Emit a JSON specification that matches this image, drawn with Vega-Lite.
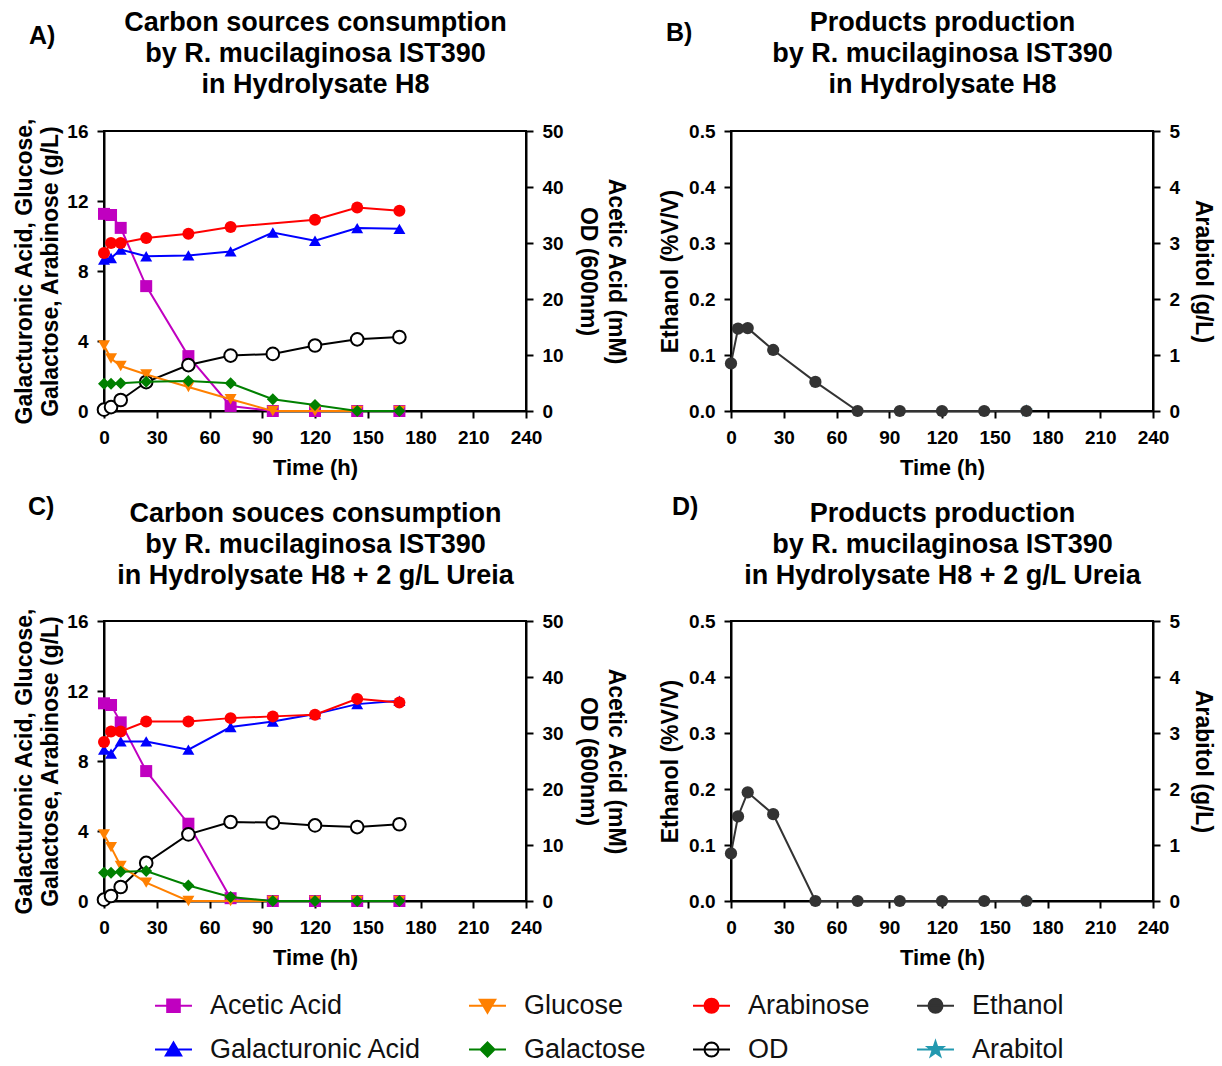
{
  "$schema": "https://vega.github.io/schema/vega-lite/v6.json",
  "background": "white",
  "padding": {"left": 12, "top": 7, "right": 6, "bottom": 0},
  "config": {
    "font": "Liberation Sans",
    "view": {"stroke": "#000000", "strokeWidth": 2},
    "axis": {
      "grid": false, "domainColor": "#000000", "domainWidth": 2,
      "tickColor": "#000000", "tickWidth": 2, "tickSize": 7,
      "labelFontSize": 19, "labelFontWeight": "bold", "labelColor": "#000000",
      "labelPadding": 9, "labelFlush": false, "labelOverlap": false,
      "titleFontSize": 23, "titleFontWeight": "bold", "titleColor": "#000000"
    },
    "axisX": {"labelPadding": 10, "titleFontSize": 22, "titlePadding": 10},
    "title": {"anchor": "start", "frame": "group", "fontSize": 25, "fontWeight": "bold", "color": "#000000", "offset": 0},
    "legend": {
      "orient": "none", "legendX": 46, "legendY": 861, "columns": 4,
      "columnPadding": 42, "rowPadding": 16, "gridAlign": "each",
      "symbolSize": 196, "symbolStrokeWidth": 2, "symbolOffset": 10, "labelOffset": 23,
      "labelFontSize": 27, "labelFontWeight": "normal", "labelColor": "#111111",
      "labelLimit": 400, "padding": 0
    }
  },
  "datasets": {
    "acetic_od_h8": [
      {"series": "Acetic Acid", "t": 0, "value": 35.2}, {"series": "Acetic Acid", "t": 4, "value": 35.0},
      {"series": "Acetic Acid", "t": 9.5, "value": 32.7}, {"series": "Acetic Acid", "t": 24, "value": 22.3},
      {"series": "Acetic Acid", "t": 48, "value": 9.8}, {"series": "Acetic Acid", "t": 72, "value": 0.9},
      {"series": "Acetic Acid", "t": 96, "value": 0}, {"series": "Acetic Acid", "t": 120, "value": 0},
      {"series": "Acetic Acid", "t": 144, "value": 0}, {"series": "Acetic Acid", "t": 168, "value": 0},
      {"series": "OD", "t": 0, "value": 0.24}, {"series": "OD", "t": 4, "value": 0.7},
      {"series": "OD", "t": 9.5, "value": 1.96}, {"series": "OD", "t": 24, "value": 5.17},
      {"series": "OD", "t": 48, "value": 8.2}, {"series": "OD", "t": 72, "value": 9.9},
      {"series": "OD", "t": 96, "value": 10.2}, {"series": "OD", "t": 120, "value": 11.7},
      {"series": "OD", "t": 144, "value": 12.8}, {"series": "OD", "t": 168, "value": 13.2}
    ],
    "sugars_h8": [
      {"series": "Galacturonic Acid", "t": 0, "value": 8.65}, {"series": "Galacturonic Acid", "t": 4, "value": 8.74},
      {"series": "Galacturonic Acid", "t": 9.5, "value": 9.22}, {"series": "Galacturonic Acid", "t": 24, "value": 8.84},
      {"series": "Galacturonic Acid", "t": 48, "value": 8.89}, {"series": "Galacturonic Acid", "t": 72, "value": 9.12},
      {"series": "Galacturonic Acid", "t": 96, "value": 10.2}, {"series": "Galacturonic Acid", "t": 120, "value": 9.73},
      {"series": "Galacturonic Acid", "t": 144, "value": 10.45}, {"series": "Galacturonic Acid", "t": 168, "value": 10.41},
      {"series": "Arabinose", "t": 0, "value": 9.03}, {"series": "Arabinose", "t": 4, "value": 9.6},
      {"series": "Arabinose", "t": 9.5, "value": 9.6}, {"series": "Arabinose", "t": 24, "value": 9.88},
      {"series": "Arabinose", "t": 48, "value": 10.13}, {"series": "Arabinose", "t": 72, "value": 10.51},
      {"series": "Arabinose", "t": 120, "value": 10.93}, {"series": "Arabinose", "t": 144, "value": 11.63},
      {"series": "Arabinose", "t": 168, "value": 11.44},
      {"series": "Glucose", "t": 0, "value": 3.74}, {"series": "Glucose", "t": 4, "value": 3.0},
      {"series": "Glucose", "t": 9.5, "value": 2.57}, {"series": "Glucose", "t": 24, "value": 2.09},
      {"series": "Glucose", "t": 48, "value": 1.37}, {"series": "Glucose", "t": 72, "value": 0.67},
      {"series": "Glucose", "t": 96, "value": 0}, {"series": "Glucose", "t": 120, "value": 0},
      {"series": "Glucose", "t": 144, "value": 0}, {"series": "Glucose", "t": 168, "value": 0},
      {"series": "Galactose", "t": 0, "value": 1.56}, {"series": "Galactose", "t": 4, "value": 1.56},
      {"series": "Galactose", "t": 9.5, "value": 1.58}, {"series": "Galactose", "t": 24, "value": 1.67},
      {"series": "Galactose", "t": 48, "value": 1.71}, {"series": "Galactose", "t": 72, "value": 1.58},
      {"series": "Galactose", "t": 96, "value": 0.67}, {"series": "Galactose", "t": 120, "value": 0.34},
      {"series": "Galactose", "t": 144, "value": 0}, {"series": "Galactose", "t": 168, "value": 0}
    ],
    "acetic_od_urea": [
      {"series": "Acetic Acid", "t": 0, "value": 35.3}, {"series": "Acetic Acid", "t": 4, "value": 35.0},
      {"series": "Acetic Acid", "t": 9.5, "value": 31.9}, {"series": "Acetic Acid", "t": 24, "value": 23.2},
      {"series": "Acetic Acid", "t": 48, "value": 13.8}, {"series": "Acetic Acid", "t": 72, "value": 0.5},
      {"series": "Acetic Acid", "t": 96, "value": 0}, {"series": "Acetic Acid", "t": 120, "value": 0},
      {"series": "Acetic Acid", "t": 144, "value": 0}, {"series": "Acetic Acid", "t": 168, "value": 0},
      {"series": "OD", "t": 0, "value": 0.24}, {"series": "OD", "t": 4, "value": 0.9},
      {"series": "OD", "t": 9.5, "value": 2.5}, {"series": "OD", "t": 24, "value": 6.8},
      {"series": "OD", "t": 48, "value": 11.9}, {"series": "OD", "t": 72, "value": 14.1},
      {"series": "OD", "t": 96, "value": 14.0}, {"series": "OD", "t": 120, "value": 13.5},
      {"series": "OD", "t": 144, "value": 13.2}, {"series": "OD", "t": 168, "value": 13.7}
    ],
    "sugars_urea": [
      {"series": "Galacturonic Acid", "t": 0, "value": 8.65}, {"series": "Galacturonic Acid", "t": 4, "value": 8.42},
      {"series": "Galacturonic Acid", "t": 9.5, "value": 9.12}, {"series": "Galacturonic Acid", "t": 24, "value": 9.12},
      {"series": "Galacturonic Acid", "t": 48, "value": 8.65}, {"series": "Galacturonic Acid", "t": 72, "value": 9.94},
      {"series": "Galacturonic Acid", "t": 96, "value": 10.26}, {"series": "Galacturonic Acid", "t": 120, "value": 10.68},
      {"series": "Galacturonic Acid", "t": 144, "value": 11.25}, {"series": "Galacturonic Acid", "t": 168, "value": 11.44},
      {"series": "Arabinose", "t": 0, "value": 9.08}, {"series": "Arabinose", "t": 4, "value": 9.69},
      {"series": "Arabinose", "t": 9.5, "value": 9.69}, {"series": "Arabinose", "t": 24, "value": 10.26},
      {"series": "Arabinose", "t": 48, "value": 10.26}, {"series": "Arabinose", "t": 72, "value": 10.45},
      {"series": "Arabinose", "t": 96, "value": 10.55}, {"series": "Arabinose", "t": 120, "value": 10.64},
      {"series": "Arabinose", "t": 144, "value": 11.55}, {"series": "Arabinose", "t": 168, "value": 11.34},
      {"series": "Glucose", "t": 0, "value": 3.8}, {"series": "Glucose", "t": 4, "value": 3.08},
      {"series": "Glucose", "t": 9.5, "value": 2.0}, {"series": "Glucose", "t": 24, "value": 1.05},
      {"series": "Glucose", "t": 48, "value": 0}, {"series": "Glucose", "t": 72, "value": 0},
      {"series": "Glucose", "t": 96, "value": 0}, {"series": "Glucose", "t": 120, "value": 0},
      {"series": "Glucose", "t": 144, "value": 0}, {"series": "Glucose", "t": 168, "value": 0},
      {"series": "Galactose", "t": 0, "value": 1.62}, {"series": "Galactose", "t": 4, "value": 1.62},
      {"series": "Galactose", "t": 9.5, "value": 1.67}, {"series": "Galactose", "t": 24, "value": 1.71},
      {"series": "Galactose", "t": 48, "value": 0.89}, {"series": "Galactose", "t": 72, "value": 0.23},
      {"series": "Galactose", "t": 96, "value": 0}, {"series": "Galactose", "t": 120, "value": 0},
      {"series": "Galactose", "t": 144, "value": 0}, {"series": "Galactose", "t": 168, "value": 0}
    ],
    "ethanol_h8": [
      {"series": "Ethanol", "t": 0, "value": 0.085}, {"series": "Ethanol", "t": 4, "value": 0.147},
      {"series": "Ethanol", "t": 9.5, "value": 0.148}, {"series": "Ethanol", "t": 24, "value": 0.109},
      {"series": "Ethanol", "t": 48, "value": 0.052}, {"series": "Ethanol", "t": 72, "value": 0},
      {"series": "Ethanol", "t": 96, "value": 0}, {"series": "Ethanol", "t": 120, "value": 0},
      {"series": "Ethanol", "t": 144, "value": 0}, {"series": "Ethanol", "t": 168, "value": 0}
    ],
    "ethanol_urea": [
      {"series": "Ethanol", "t": 0, "value": 0.085}, {"series": "Ethanol", "t": 4, "value": 0.151},
      {"series": "Ethanol", "t": 9.5, "value": 0.194}, {"series": "Ethanol", "t": 24, "value": 0.155},
      {"series": "Ethanol", "t": 48, "value": 0}, {"series": "Ethanol", "t": 72, "value": 0},
      {"series": "Ethanol", "t": 96, "value": 0}, {"series": "Ethanol", "t": 120, "value": 0},
      {"series": "Ethanol", "t": 144, "value": 0}, {"series": "Ethanol", "t": 168, "value": 0}
    ],
    "arabitol_h8": [{"series": "Arabitol", "t": 168, "value": 0}],
    "arabitol_urea": [{"series": "Arabitol", "t": 168, "value": 0}]
  },
  "columns": 2,
  "spacing": {"row": 210, "column": 205},
  "bounds": "flush",
  "concat": [
    {
      "width": 422, "height": 280,
      "title": {"text": "A)", "dx": -75, "dy": 45},
      "layer": [
        {
          "data": {"name": "acetic_od_h8"},
          "encoding": {
            "x": {"field": "t", "type": "quantitative", "scale": {"domain": [0, 240], "nice": false},
              "axis": {"orient": "top", "domain": false, "ticks": false, "labels": false,
                "title": ["Carbon sources consumption", "by R. mucilaginosa IST390", "in Hydrolysate H8"],
                "titleFontSize": 27, "titleLineHeight": 31, "titlePadding": 33}},
            "y": {"field": "value", "type": "quantitative", "scale": {"domain": [0, 50], "nice": false},
              "axis": {"orient": "right", "values": [0, 10, 20, 30, 40, 50], "title": ["Acetic Acid (mM)", "OD (600nm)"], "titleLineHeight": 28, "titlePadding": 12}},
            "color": {"field": "series", "type": "nominal", "title": null,
              "scale": {"domain": ["Acetic Acid", "Galacturonic Acid", "Glucose", "Galactose", "Arabinose", "OD", "Ethanol", "Arabitol"],
                "range": ["#c000c0", "#0000ff", "#ff8000", "#008000", "#ff0000", "#000000", "#333333", "#2399b0"]},
              "legend": {
                "title": null,
                "encode": {
                  "symbols": {
                    "update": {
                      "shape": {"signal": "datum.value === 'Acetic Acid' ? 'M-2.64,0H2.64M-0.9,-0.9H0.9V0.9H-0.9Z' : datum.value === 'Glucose' ? 'M-2.64,0H2.64M0,1L1.1,-0.85L-1.1,-0.85Z' : datum.value === 'Galacturonic Acid' ? 'M-2.64,0H2.64M0,-1L1.1,0.85L-1.1,0.85Z' : datum.value === 'Galactose' ? 'M-2.64,0H2.64M0,-1L1,0L0,1L-1,0Z' : datum.value === 'Arabitol' ? 'M-2.64,0H2.64M0,-1.15L0.265,-0.364L1.094,-0.355L0.428,0.139L0.676,0.93L0,0.45L-0.676,0.93L-0.428,0.139L-1.094,-0.355L-0.265,-0.364Z' : 'M-2.64,0H2.64M1,0L0.924,0.383L0.707,0.707L0.383,0.924L0,1L-0.383,0.924L-0.707,0.707L-0.924,0.383L-1,0L-0.924,-0.383L-0.707,-0.707L-0.383,-0.924L0,-1L0.383,-0.924L0.707,-0.707L0.924,-0.383Z'"},
                      "fill": {"signal": "scale('color', datum.value)"},
                      "stroke": {"signal": "scale('color', datum.value)"},
                      "fillOpacity": {"signal": "datum.value === 'OD' ? 0 : 1"},
                      "strokeWidth": {"value": 2},
                      "opacity": {"value": 1}
                    }
                  }
                }
              }}
          },
          "layer": [
            {"mark": {"type": "line", "strokeWidth": 2}},
            {"transform": [{"filter": "datum.series !== 'OD'"}],
             "mark": {"type": "point", "filled": true, "size": 144, "opacity": 1},
             "encoding": {"shape": {"field": "series", "type": "nominal", "title": null, "legend": null,
               "scale": {"domain": ["Galacturonic Acid", "Acetic Acid", "Glucose", "Galactose", "Arabinose", "OD", "Ethanol", "Arabitol"],
                 "range": ["triangle-up", "square", "triangle-down", "diamond", "circle", "circle", "circle", "M0,-1.15L0.265,-0.364L1.094,-0.355L0.428,0.139L0.676,0.93L0,0.45L-0.676,0.93L-0.428,0.139L-1.094,-0.355L-0.265,-0.364Z"]}}}},
            {"transform": [{"filter": "datum.series === 'OD'"}],
             "mark": {"type": "point", "filled": false, "fill": "#ffffff", "size": 160, "strokeWidth": 2, "opacity": 1},
             "encoding": {"shape": {"field": "series", "type": "nominal", "title": null, "legend": null}}}
          ]
        },
        {
          "data": {"name": "sugars_h8"},
          "encoding": {
            "x": {"field": "t", "type": "quantitative", "scale": {"domain": [0, 240], "nice": false},
              "axis": {"orient": "bottom", "values": [0, 30, 60, 90, 120, 150, 180, 210, 240], "title": "Time (h)"}},
            "y": {"field": "value", "type": "quantitative", "scale": {"domain": [0, 16], "nice": false},
              "axis": {"orient": "left", "values": [0, 4, 8, 12, 16], "title": ["Galacturonic Acid, Glucose,", "Galactose, Arabinose (g/L)"], "titleLineHeight": 26, "titlePadding": 4}},
            "color": {"field": "series", "type": "nominal", "title": null}
          },
          "layer": [
            {"mark": {"type": "line", "strokeWidth": 2}},
            {"mark": {"type": "point", "filled": true, "size": 144, "opacity": 1},
             "encoding": {"shape": {"field": "series", "type": "nominal", "title": null, "legend": null}}}
          ]
        }
      ],
      "resolve": {"scale": {"y": "independent"}, "axis": {"x": "independent"}}
    },
    {
      "width": 422, "height": 280,
      "title": {"text": "B)", "dx": -65, "dy": 42},
      "layer": [
        {
          "data": {"name": "arabitol_h8"},
          "encoding": {
            "x": {"field": "t", "type": "quantitative", "scale": {"domain": [0, 240], "nice": false},
              "axis": {"orient": "top", "domain": false, "ticks": false, "labels": false,
                "title": ["Products production", "by R. mucilaginosa IST390", "in Hydrolysate H8"],
                "titleFontSize": 27, "titleLineHeight": 31, "titlePadding": 33}},
            "y": {"field": "value", "type": "quantitative", "scale": {"domain": [0, 5], "nice": false},
              "axis": {"orient": "right", "values": [0, 1, 2, 3, 4, 5], "title": "Arabitol (g/L)", "titlePadding": 11}},
            "color": {"field": "series", "type": "nominal", "title": null}
          },
          "layer": [
            {"mark": {"type": "point", "filled": true, "size": 150, "opacity": 1},
             "encoding": {"shape": {"field": "series", "type": "nominal", "title": null, "legend": null}}}
          ]
        },
        {
          "data": {"name": "ethanol_h8"},
          "encoding": {
            "x": {"field": "t", "type": "quantitative", "scale": {"domain": [0, 240], "nice": false},
              "axis": {"orient": "bottom", "values": [0, 30, 60, 90, 120, 150, 180, 210, 240], "title": "Time (h)"}},
            "y": {"field": "value", "type": "quantitative", "scale": {"domain": [0, 0.5], "nice": false},
              "axis": {"orient": "left", "values": [0, 0.1, 0.2, 0.3, 0.4, 0.5], "format": ".1f", "title": "Ethanol (%V/V)", "titlePadding": 6}},
            "color": {"field": "series", "type": "nominal", "title": null}
          },
          "layer": [
            {"mark": {"type": "line", "strokeWidth": 2}},
            {"mark": {"type": "point", "filled": true, "size": 150, "opacity": 1},
             "encoding": {"shape": {"field": "series", "type": "nominal", "title": null, "legend": null}}}
          ]
        }
      ],
      "resolve": {"scale": {"y": "independent"}, "axis": {"x": "independent"}}
    },
    {
      "width": 422, "height": 280,
      "title": {"text": "C)", "dx": -76, "dy": 25},
      "layer": [
        {
          "data": {"name": "acetic_od_urea"},
          "encoding": {
            "x": {"field": "t", "type": "quantitative", "scale": {"domain": [0, 240], "nice": false},
              "axis": {"orient": "top", "domain": false, "ticks": false, "labels": false,
                "title": ["Carbon souces consumption", "by R. mucilaginosa IST390", "in Hydrolysate H8 + 2 g/L Ureia"],
                "titleFontSize": 27, "titleLineHeight": 31, "titlePadding": 32}},
            "y": {"field": "value", "type": "quantitative", "scale": {"domain": [0, 50], "nice": false},
              "axis": {"orient": "right", "values": [0, 10, 20, 30, 40, 50], "title": ["Acetic Acid (mM)", "OD (600nm)"], "titleLineHeight": 28, "titlePadding": 12}},
            "color": {"field": "series", "type": "nominal", "title": null}
          },
          "layer": [
            {"mark": {"type": "line", "strokeWidth": 2}},
            {"transform": [{"filter": "datum.series !== 'OD'"}],
             "mark": {"type": "point", "filled": true, "size": 144, "opacity": 1},
             "encoding": {"shape": {"field": "series", "type": "nominal", "title": null, "legend": null}}},
            {"transform": [{"filter": "datum.series === 'OD'"}],
             "mark": {"type": "point", "filled": false, "fill": "#ffffff", "size": 160, "strokeWidth": 2, "opacity": 1},
             "encoding": {"shape": {"field": "series", "type": "nominal", "title": null, "legend": null}}}
          ]
        },
        {
          "data": {"name": "sugars_urea"},
          "encoding": {
            "x": {"field": "t", "type": "quantitative", "scale": {"domain": [0, 240], "nice": false},
              "axis": {"orient": "bottom", "values": [0, 30, 60, 90, 120, 150, 180, 210, 240], "title": "Time (h)"}},
            "y": {"field": "value", "type": "quantitative", "scale": {"domain": [0, 16], "nice": false},
              "axis": {"orient": "left", "values": [0, 4, 8, 12, 16], "title": ["Galacturonic Acid, Glucose,", "Galactose, Arabinose (g/L)"], "titleLineHeight": 26, "titlePadding": 4}},
            "color": {"field": "series", "type": "nominal", "title": null}
          },
          "layer": [
            {"mark": {"type": "line", "strokeWidth": 2}},
            {"mark": {"type": "point", "filled": true, "size": 144, "opacity": 1},
             "encoding": {"shape": {"field": "series", "type": "nominal", "title": null, "legend": null}}}
          ]
        }
      ],
      "resolve": {"scale": {"y": "independent"}, "axis": {"x": "independent"}}
    },
    {
      "width": 422, "height": 280,
      "title": {"text": "D)", "dx": -59, "dy": 25},
      "layer": [
        {
          "data": {"name": "arabitol_urea"},
          "encoding": {
            "x": {"field": "t", "type": "quantitative", "scale": {"domain": [0, 240], "nice": false},
              "axis": {"orient": "top", "domain": false, "ticks": false, "labels": false,
                "title": ["Products production", "by R. mucilaginosa IST390", "in Hydrolysate H8 + 2 g/L Ureia"],
                "titleFontSize": 27, "titleLineHeight": 31, "titlePadding": 32}},
            "y": {"field": "value", "type": "quantitative", "scale": {"domain": [0, 5], "nice": false},
              "axis": {"orient": "right", "values": [0, 1, 2, 3, 4, 5], "title": "Arabitol (g/L)", "titlePadding": 11}},
            "color": {"field": "series", "type": "nominal", "title": null}
          },
          "layer": [
            {"mark": {"type": "point", "filled": true, "size": 150, "opacity": 1},
             "encoding": {"shape": {"field": "series", "type": "nominal", "title": null, "legend": null}}}
          ]
        },
        {
          "data": {"name": "ethanol_urea"},
          "encoding": {
            "x": {"field": "t", "type": "quantitative", "scale": {"domain": [0, 240], "nice": false},
              "axis": {"orient": "bottom", "values": [0, 30, 60, 90, 120, 150, 180, 210, 240], "title": "Time (h)"}},
            "y": {"field": "value", "type": "quantitative", "scale": {"domain": [0, 0.5], "nice": false},
              "axis": {"orient": "left", "values": [0, 0.1, 0.2, 0.3, 0.4, 0.5], "format": ".1f", "title": "Ethanol (%V/V)", "titlePadding": 6}},
            "color": {"field": "series", "type": "nominal", "title": null}
          },
          "layer": [
            {"mark": {"type": "line", "strokeWidth": 2}},
            {"mark": {"type": "point", "filled": true, "size": 150, "opacity": 1},
             "encoding": {"shape": {"field": "series", "type": "nominal", "title": null, "legend": null}}}
          ]
        }
      ],
      "resolve": {"scale": {"y": "independent"}, "axis": {"x": "independent"}}
    }
  ]
}
